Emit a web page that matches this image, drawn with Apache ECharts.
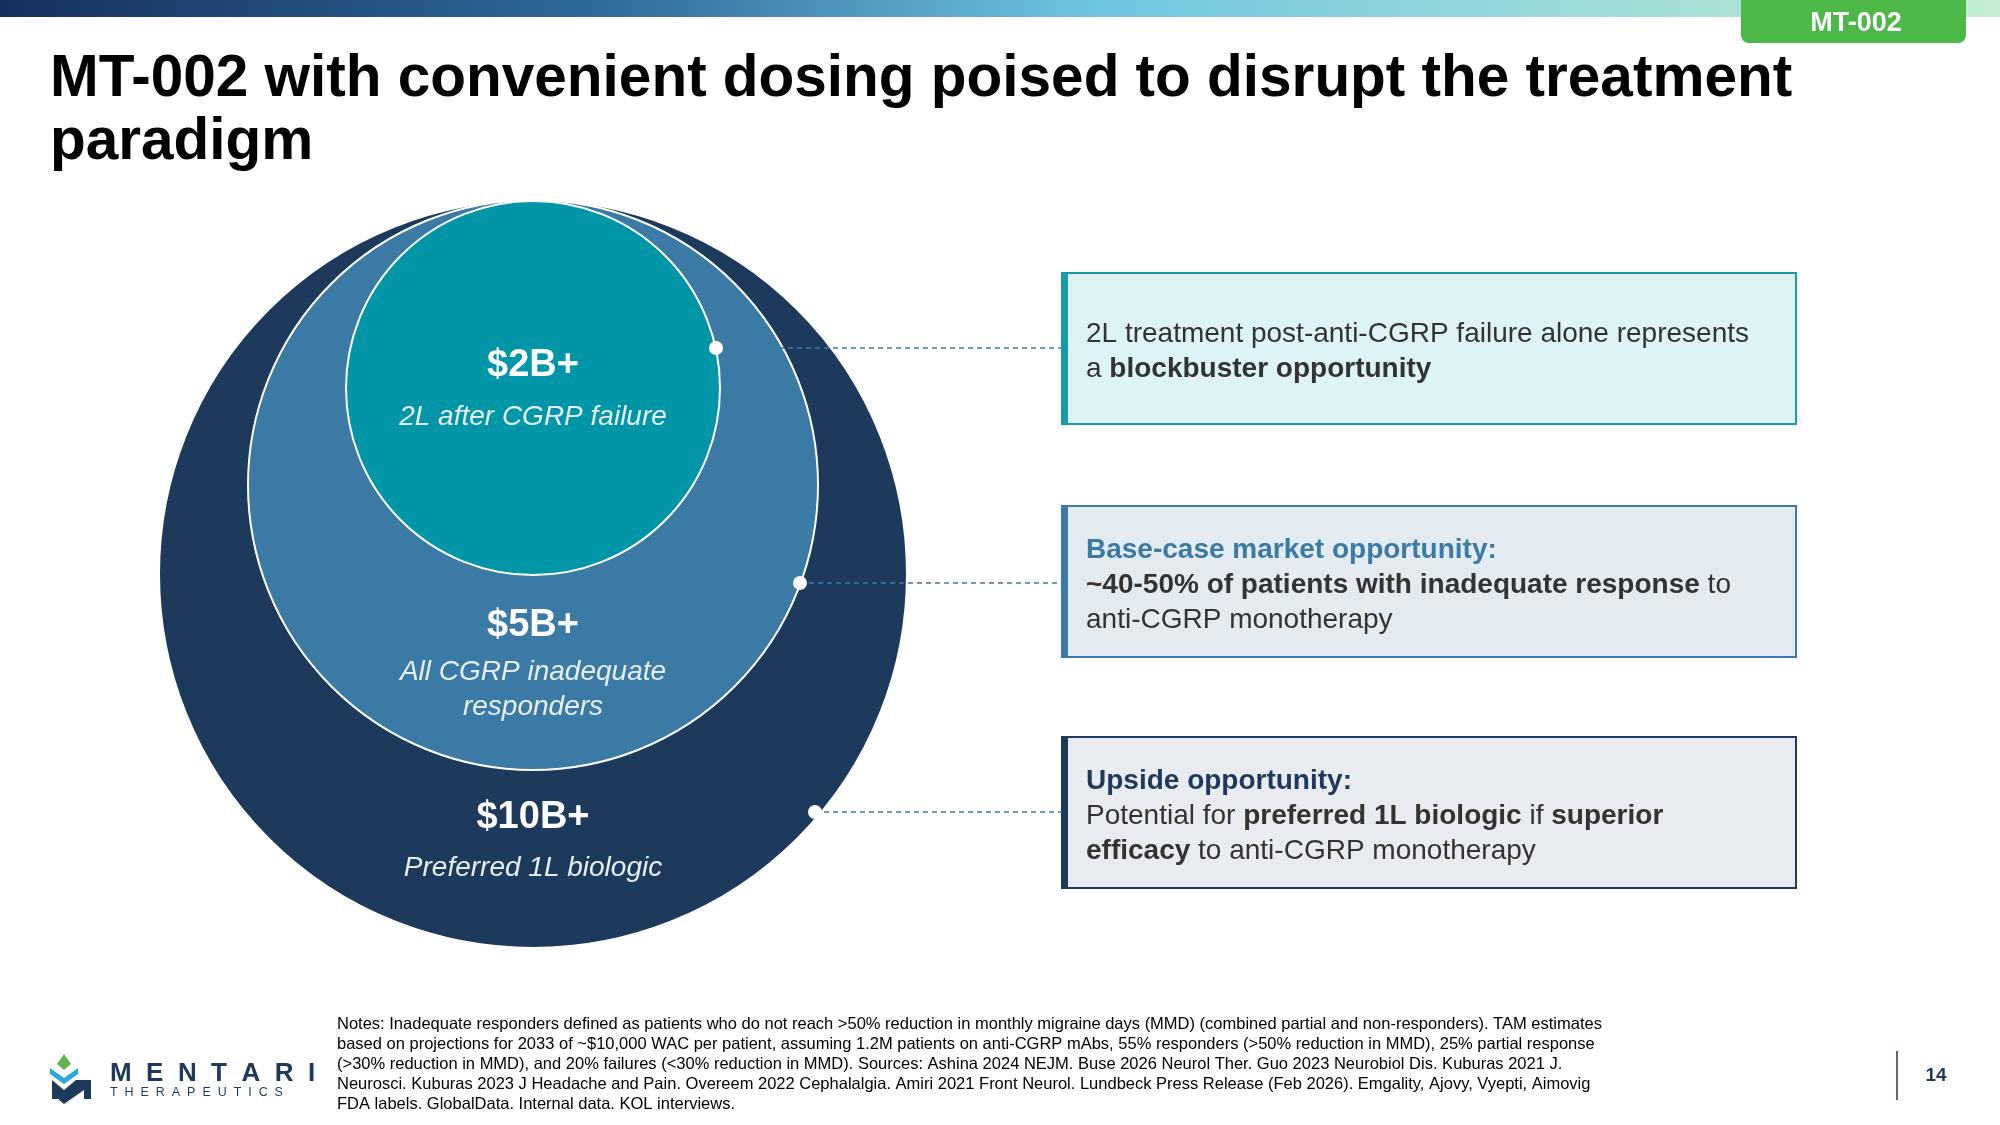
<!DOCTYPE html>
<html>
<head>
<meta charset="utf-8">
<script src="https://cdn.jsdelivr.net/npm/echarts@6/dist/echarts.min.js"></script>
<style>html,body{margin:0;padding:0;background:#fff}#chart{width:2000px;height:1125px}</style>
</head>
<body>
<div id="chart"></div>
<script>
// market segments, outer to inner
var segments = ['Preferred 1L biologic', 'All CGRP inadequate\nresponders', '2L after CGRP failure'];
var values = ['$10B+', '$5B+', '$2B+'];
var colors = ['#1d3a5c', '#3b7aa5', '#0096a8'];
// circle geometry (page units)
var circleY = [574, 485, 388];
var circleR = [374, 285, 187];
var centerX = 533;

var title = 'MT-002 with convenient dosing poised to disrupt the treatment\nparadigm';
var notes = [
    'Notes: Inadequate responders defined as patients who do not reach >50% reduction in monthly migraine days (MMD) (combined partial and non-responders). TAM estimates',
    'based on projections for 2033 of ~$10,000 WAC per patient, assuming 1.2M patients on anti-CGRP mAbs, 55% responders (>50% reduction in MMD), 25% partial response',
    '(>30% reduction in MMD), and 20% failures (<30% reduction in MMD). Sources: Ashina 2024 NEJM. Buse 2026 Neurol Ther. Guo 2023 Neurobiol Dis. Kuburas 2021 J.',
    'Neurosci. Kuburas 2023 J Headache and Pain. Overeem 2022 Cephalalgia. Amiri 2021 Front Neurol. Lundbeck Press Release (Feb 2026). Emgality, Ajovy, Vyepti, Aimovig',
    'FDA labels. GlobalData. Internal data. KOL interviews.'
];

var F = 'Liberation Sans, Arial, sans-serif';
var myChart = echarts.init(document.getElementById('chart'));

var scatterData = circleR.map(function (r, i) {
    return { value: [centerX, circleY[i], r], itemStyle: { color: colors[i] } };
});

var g = [];
// top gradient bar
g.push({ type: 'rect', shape: { x: 0, y: 0, width: 2000, height: 17 },
    style: { fill: new echarts.graphic.LinearGradient(0, 0, 1, 0, [
        { offset: 0, color: '#16305c' }, { offset: 0.3, color: '#2f6a9a' },
        { offset: 0.55, color: '#6fc6e0' }, { offset: 1, color: '#c4ecd2' }]) } });
g.push({ type: 'rect', shape: { x: 1741, y: -10, width: 225, height: 53, r: 8 }, style: { fill: '#4cb848' } });
g.push({ type: 'text', x: 1856, y: 24, style: { text: 'MT-002', fill: '#fff', font: 'bold 27px ' + F, align: 'center', verticalAlign: 'middle' } });
g.push({ type: 'text', x: 50, y: 48, style: { text: title, fill: '#000', font: 'bold 58.5px ' + F, lineHeight: 63 } });

// circle labels
var valueY = [818, 626, 366];
var subY = [868, 690, 417];
for (var i = 0; i < 3; i++) {
    g.push({ type: 'text', x: centerX, y: valueY[i], z: 10, style: { text: values[i], fill: '#fff', font: 'bold 38px ' + F, align: 'center', verticalAlign: 'middle' } });
    g.push({ type: 'text', x: centerX, y: subY[i], z: 10, style: { text: segments[i], fill: '#e6eef5', font: 'italic 28px ' + F, align: 'center', verticalAlign: 'middle', lineHeight: 35 } });
}

// callout boxes
var dots = [[716, 348], [800, 583], [815, 812]];
var boxY = [273, 506, 737];
var boxFill = ['#def3f6', '#e3eaf0', '#e8ebef'];
var boxEdge = ['#1a9aa8', '#3b7aa5', '#1d3a5c'];
var boxText = [
    '2L treatment post-anti-CGRP failure alone represents\na {b|blockbuster opportunity}',
    '{h|Base-case market opportunity:}\n{b|~40-50% of patients with inadequate response} to\nanti-CGRP monotherapy',
    '{h2|Upside opportunity:}\nPotential for {b|preferred 1L biologic} if {b|superior}\n{b|efficacy} to anti-CGRP monotherapy'
];
for (var k = 0; k < 3; k++) {
    var cy = boxY[k] + 79;
    g.push({ type: 'line', z: 10, shape: { x1: dots[k][0], y1: dots[k][1], x2: 1062, y2: dots[k][1] },
        style: { stroke: '#3b7aa5', lineWidth: 1.5, lineDash: [5, 4] } });
    g.push({ type: 'circle', z: 11, shape: { cx: dots[k][0], cy: dots[k][1], r: 7 }, style: { fill: '#fff' } });
    g.push({ type: 'rect', shape: { x: 1062, y: boxY[k], width: 734, height: 151 }, style: { fill: boxFill[k], stroke: boxEdge[k], lineWidth: 2 } });
    g.push({ type: 'rect', shape: { x: 1062, y: boxY[k], width: 6, height: 151 }, style: { fill: boxEdge[k] } });
    g.push({ type: 'text', x: 1086, y: cy, style: { text: boxText[k], fill: '#333', font: '28px ' + F, lineHeight: 35, verticalAlign: 'middle',
        rich: {
            b: { font: 'bold 28px ' + F, fill: '#333', lineHeight: 35 },
            h: { font: 'bold 28px ' + F, fill: '#3b7aa5', lineHeight: 35 },
            h2: { font: 'bold 28px ' + F, fill: '#1d3a5c', lineHeight: 35 }
        } } });
}

// footer
g.push({ type: 'text', x: 337, y: 1014, style: { text: notes.join('\n'), fill: '#000', font: '16.5px ' + F, lineHeight: 20 } });
g.push({ type: 'line', shape: { x1: 1897, y1: 1051, x2: 1897, y2: 1100 }, style: { stroke: '#1d3a5c', lineWidth: 1.5 } });
g.push({ type: 'text', x: 1936, y: 1076, style: { text: '14', fill: '#1d3a5c', font: 'bold 19px ' + F, align: 'center', verticalAlign: 'middle' } });
// logo
g.push({ type: 'polygon', shape: { points: [[64, 1054], [57, 1064], [64, 1070], [71, 1064]] }, style: { fill: '#6ab04c' } });
g.push({ type: 'polygon', shape: { points: [[50, 1068], [64, 1078], [78, 1068], [78, 1074], [64, 1084], [50, 1074]] }, style: { fill: '#29a9d8' } });
g.push({ type: 'polygon', shape: { points: [[52, 1080], [64, 1090], [76, 1080], [91, 1080], [91, 1099], [84, 1099], [84, 1090], [64, 1104], [59, 1100], [59, 1099], [52, 1099]] }, style: { fill: '#1d3a5c' } });
g.push({ type: 'text', x: 110, y: 1074, style: { text: 'M  E  N  T  A  R  I', fill: '#1d3a5c', font: 'bold 26px ' + F, verticalAlign: 'middle' } });
g.push({ type: 'text', x: 110, y: 1093, style: { text: 'T  H  E  R  A  P  E  U  T  I  C  S', fill: '#1d3a5c', font: '12.5px ' + F, verticalAlign: 'middle' } });

var option = {
    animation: false,
    grid: { left: 0, right: 0, top: 0, bottom: 0 },
    xAxis: { type: 'value', min: 0, max: 2000, show: false },
    yAxis: { type: 'value', min: 0, max: 1125, inverse: true, show: false },
    series: [{
        type: 'scatter',
        data: scatterData,
        symbolSize: function (v) { return v[2] * 2; },
        itemStyle: { borderColor: '#fff', borderWidth: 2, opacity: 1 },
        silent: true
    }],
    graphic: g
};
myChart.setOption(option);
window.onresize = function () { myChart.resize(); };
</script>
</body>
</html>
